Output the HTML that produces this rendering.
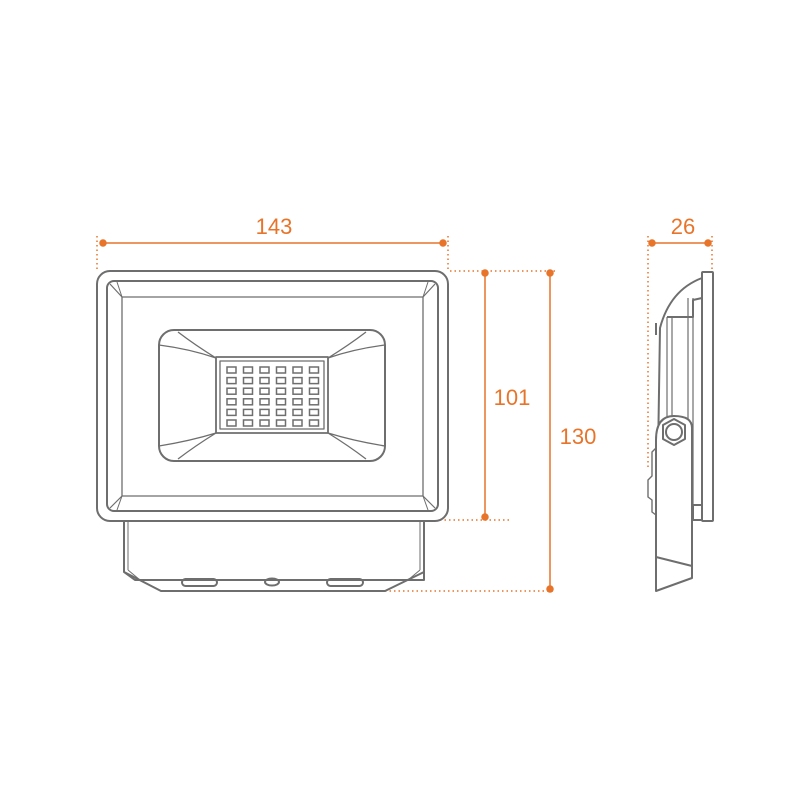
<!DOCTYPE html>
<html><head><style>
html,body{margin:0;padding:0;background:#fff;}
svg{display:block;}
text{font-family:"Liberation Sans",sans-serif;font-size:22px;fill:#e8742a;text-anchor:middle;}
</style></head><body>
<svg width="810" height="810" viewBox="0 0 810 810" xmlns="http://www.w3.org/2000/svg">
<g stroke="#e8742a" stroke-width="1.5" stroke-dasharray="1.5,3" fill="none">
<line x1="97" y1="236" x2="97" y2="271"/>
<line x1="448" y1="236" x2="448" y2="271"/>
<line x1="450" y1="271" x2="556" y2="271"/>
<line x1="440" y1="520" x2="512" y2="520"/>
<line x1="385" y1="591" x2="556" y2="591"/>
<line x1="648" y1="236" x2="648" y2="470"/>
<line x1="712" y1="236" x2="712" y2="272"/>
</g>
<g stroke="#e8742a" stroke-width="1.5" fill="#e8742a">
<line x1="103" y1="243" x2="443" y2="243"/>
<circle cx="103" cy="243" r="3"/><circle cx="443" cy="243" r="3"/>
<line x1="485" y1="273" x2="485" y2="517"/>
<circle cx="485" cy="273" r="3"/><circle cx="485" cy="517" r="3"/>
<line x1="550" y1="273" x2="550" y2="589"/>
<circle cx="550" cy="273" r="3"/><circle cx="550" cy="589" r="3"/>
<line x1="652" y1="243" x2="708" y2="243"/>
<circle cx="652" cy="243" r="3"/><circle cx="708" cy="243" r="3"/>
</g>
<text x="274" y="234">143</text>
<text x="512" y="405">101</text>
<text x="578" y="444">130</text>
<text x="683" y="234">26</text>

<g stroke="#6e6e6e" stroke-width="2" fill="none" stroke-linejoin="round">
<rect x="97" y="271" width="351" height="250" rx="13"/>
<rect x="107" y="281" width="331" height="230" rx="7"/>
<rect x="122" y="297" width="301" height="199" stroke-width="1.3"/>
<line x1="110" y1="284" x2="122" y2="297" stroke-width="1.2"/>
<line x1="435" y1="284" x2="423" y2="297" stroke-width="1.2"/>
<line x1="110" y1="508" x2="122" y2="496" stroke-width="1.2"/>
<line x1="435" y1="508" x2="423" y2="496" stroke-width="1.2"/>
<path d="M117 282 L122 297 M428 282 L423 297 M117 510 L122 496 M428 510 L423 496" stroke-width="1"/>
<rect x="159" y="330" width="226" height="131" rx="15"/>
<path d="M178 332 Q195 345 216 358 M159 345 Q190 349 216 358 M366 332 Q349 345 328 358 M385 345 Q354 349 328 358 M178 459 Q195 446 216 433 M159 446 Q190 441 216 433 M366 459 Q349 446 328 433 M385 446 Q354 441 328 433" stroke-width="1.3"/>
<rect x="216" y="357" width="112" height="76" stroke-width="1.8"/>
<rect x="220" y="361" width="104" height="68" stroke-width="1.3"/>
</g>
<g stroke="#6e6e6e" stroke-width="1.5" fill="none">
<g id="row">
<rect x="227" y="367" width="9" height="6"/><rect x="243.5" y="367" width="9" height="6"/><rect x="260" y="367" width="9" height="6"/><rect x="276.5" y="367" width="9" height="6"/><rect x="293" y="367" width="9" height="6"/><rect x="309.5" y="367" width="9" height="6"/>
</g>
<use href="#row" y="10.6"/><use href="#row" y="21.2"/><use href="#row" y="31.8"/><use href="#row" y="42.4"/><use href="#row" y="53"/>
</g>
<g stroke="#6e6e6e" stroke-width="2" fill="none" stroke-linejoin="round">
<path d="M124 521 L124 572 L135 580 L424 580 L424 521"/>
<path d="M128 521 L128 570 M420 521 L420 570" stroke-width="1"/>
<path d="M124 572 L161 591 L385 591 L424 572"/>
<line x1="128" y1="570" x2="140" y2="580" stroke-width="1"/>
<line x1="420" y1="570" x2="408" y2="580" stroke-width="1"/>
<rect x="182" y="579" width="35" height="7" rx="3.5"/>
<rect x="327" y="579" width="36" height="7" rx="3.5"/>
<ellipse cx="272" cy="582" rx="7" ry="3.5"/>

<!-- side -->
<rect x="702" y="272" width="11" height="249" rx="1"/>
<path d="M702 278 Q670 290 660 328 L657 520"/>
<path d="M656 323 L656 335" />
<path d="M667 317 L693 317 L693 300 L702 298"/>
<path d="M667 317 L667 420 M672 317 L672 420" stroke-width="1.2"/>
<path d="M688 298 L688 505 M693 298 L693 505" stroke-width="1.2"/>
<path d="M688 505 L702 505 M693 520 L702 520 M693 505 L693 520"/>
<path d="M656 448 L652 452 L652 476 L648 480 L648 497 L652 500 L652 512 L656 515" stroke-width="1.4"/>
<path d="M656 440 L656 591 L692 578 L692 428 Q692 416 674 416 Q656 416 656 440" fill="#fff"/>
<line x1="656" y1="557" x2="692" y2="566"/>
<polygon points="674,419 685,425 685,439 674,445 663,439 663,425" fill="#fff"/>
<circle cx="674" cy="432" r="8"/>
</g>
</svg>
</body></html>
